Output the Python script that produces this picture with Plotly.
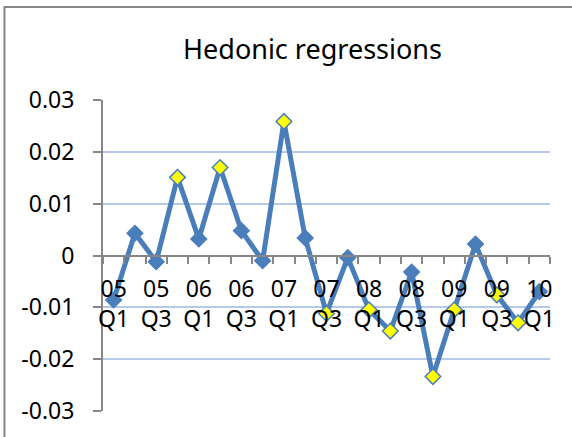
import plotly.graph_objects as go

quarters = ["05Q1", "05Q2", "05Q3", "05Q4", "06Q1", "06Q2", "06Q3", "06Q4",
            "07Q1", "07Q2", "07Q3", "07Q4", "08Q1", "08Q2", "08Q3", "08Q4",
            "09Q1", "09Q2", "09Q3", "09Q4", "10Q1"]
values = [-0.0086, 0.0043, -0.0012, 0.0151, 0.0032, 0.0170, 0.0048, -0.0010,
          0.0259, 0.0034, -0.0112, -0.0004, -0.0105, -0.0146, -0.0032, -0.0234,
          -0.0105, 0.0022, -0.0076, -0.0130, -0.0070]
significant = [0, 0, 0, 1, 0, 1, 0, 0, 1, 0, 1, 0, 1, 1, 0, 1, 1, 0, 1, 1, 0]
tick_labels = ["05<br>Q1", "05<br>Q3", "06<br>Q1", "06<br>Q3", "07<br>Q1", "07<br>Q3",
               "08<br>Q1", "08<br>Q3", "09<br>Q1", "09<br>Q3", "10<br>Q1"]
y_ticks = [-0.03, -0.02, -0.01, 0, 0.01, 0.02, 0.03]
y_tick_text = ["-0.03", "-0.02", "-0.01", "0", "0.01", "0.02", "0.03"]

BLUE = "#4a7ebb"
YELLOW = "#ffff00"
AXIS = "#868686"
GRID = "#b4cae8"
FONT = "Noto Sans"

x = list(range(len(quarters)))
colors = [YELLOW if s else BLUE for s in significant]

fig = go.Figure()
fig.add_trace(go.Scatter(
    x=x, y=values, mode="lines+markers", text=quarters,
    line=dict(color=BLUE, width=5),
    marker=dict(symbol="diamond", size=12, color=colors,
                line=dict(color=BLUE, width=1.5)),
    showlegend=False,
))

fig.update_layout(
    width=572, height=437,
    margin=dict(l=103, r=22, t=100, b=26),
    paper_bgcolor="white", plot_bgcolor="white",
    font=dict(family=FONT, size=23, color="black"),
    title=dict(text="Hedonic regressions", x=312.5 / 572, xref="container", xanchor="center",
               y=1 - 50 / 437, yref="container", yanchor="middle",
               font=dict(family=FONT, size=27, color="black")),
    xaxis=dict(
        range=[-0.5, len(quarters) - 0.5],
        anchor="free", position=0.5,
        showline=True, linecolor=AXIS, linewidth=2,
        showgrid=False, zeroline=False,
        tickmode="array", tickvals=x[::2], ticktext=tick_labels,
        ticks="outside", ticklen=7, tickcolor="rgba(0,0,0,0)",
        ticklabelstandoff=6,
        minor=dict(tickmode="linear", tick0=-0.5, dtick=1, ticks="outside",
                   ticklen=7, tickcolor=AXIS, tickwidth=2, showgrid=False),
    ),
    yaxis=dict(
        range=[-0.03005, 0.03005],
        showline=True, linecolor=AXIS, linewidth=2,
        showgrid=True, gridcolor=GRID, gridwidth=2,
        zeroline=False,
        tickmode="array", tickvals=y_ticks, ticktext=y_tick_text,
        ticks="outside", ticklen=8, tickcolor=AXIS, tickwidth=2,
        ticklabelstandoff=14,
    ),
    shapes=[dict(type="path", xref="paper", yref="paper",
                 path="M -0.2204,-0.3 L -0.2204,1.299 L 1.2,1.299",
                 line=dict(color=AXIS, width=2))],
)

fig.write_html("out.html", config={"displayModeBar": False},
               post_script="document.body.style.margin='0';")
